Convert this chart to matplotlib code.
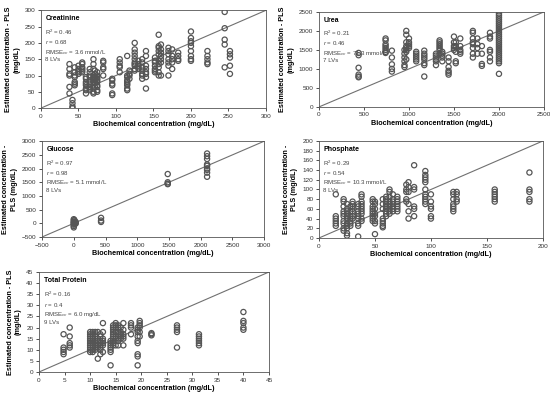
import numpy as np
import matplotlib
matplotlib.use('Agg')
import matplotlib.pyplot as plt

plt.rcParams['font.family'] = ['Liberation Sans', 'DejaVu Sans']
plt.rcParams['mathtext.fontset'] = 'custom'
plt.rcParams['mathtext.rm'] = 'Liberation Sans'
plt.rcParams['mathtext.it'] = 'Liberation Sans:italic'

# reference value columns -> estimated values in each column
creat_x = [38, 42, 45, 50, 55, 60, 65, 70, 72, 75, 83, 95, 105, 115, 118, 125, 130, 135, 140,
           152, 157, 160, 170, 175, 183, 200, 222, 245, 252]
creat_y = [[135, 120, 105, 100, 65, 45], [25, 15, 5, 0], [125, 110, 100, 95, 80, 75, 70],
           [130, 120, 115, 110, 105], [140, 135, 125, 120, 115, 110],
           [95, 90, 80, 75, 70, 60, 55, 45], [120, 110, 100, 95, 85, 75, 65, 60, 55],
           [150, 135, 120, 100, 95, 90, 85, 80, 70, 60, 50, 45], [115, 105, 95, 88, 78, 65],
           [110, 100, 95, 90, 85, 80, 70, 65, 55, 50], [145, 140, 125, 120, 100],
           [90, 85, 75, 70, 45, 40], [150, 140, 130, 125, 110],
           [160, 100, 95, 85, 80, 75, 70, 60, 55], [115, 105, 100, 90],
           [200, 180, 170, 160, 150, 140, 135, 130, 120, 115], [145, 135, 130, 125, 120],
           [150, 140, 125, 115, 105, 100, 90], [175, 160, 130, 120, 110, 105, 95, 60],
           [155, 145, 140, 130, 120, 115, 110], [225, 190, 185, 175, 165, 145, 135, 125, 110, 100],
           [195, 180, 170, 160, 150, 140, 100], [185, 175, 165, 150, 140, 130, 100],
           [180, 160, 150, 140, 120], [170, 160, 150, 145],
           [235, 215, 205, 200, 190, 175, 160, 150, 145], [175, 160, 150, 140, 135],
           [295, 245, 210, 195, 125], [175, 165, 155, 130, 105]]

urea_x = [440, 740, 810, 950, 970, 1000, 1080, 1170, 1300, 1340, 1370, 1440, 1500, 1520, 1570,
          1710, 1760, 1810, 1900, 2000]
urea_y = [[1420, 1360, 1030, 850, 800, 780], [1800, 1750, 1650, 1600, 1550, 1500, 1450, 1420],
          [1480, 1300, 1120, 1000, 930], [1500, 1400, 1300, 1200, 1100, 1050],
          [2000, 1900, 1700, 1600, 1550, 1500, 1450, 1250], [1800, 1700, 1650, 1600, 1550],
          [1450, 1400, 1350, 1300, 1250, 1200],
          [1480, 1400, 1350, 1300, 1250, 1150, 1100, 800], [1400, 1350, 1300, 1250, 1200, 1100],
          [1750, 1700, 1650, 1600, 1550, 1500, 1400], [1450, 1400, 1350, 1300, 1200],
          [1300, 1200, 1050, 950, 900, 850], [1850, 1700, 1600, 1550, 1500],
          [1700, 1600, 1450, 1200, 1150], [1800, 1600, 1500, 1450, 1400],
          [2000, 1950, 1800, 1700, 1650, 1550, 1400, 1300], [1800, 1650, 1550, 1400],
          [1600, 1400, 1130, 1080], [1950, 1850, 1800, 1500, 1450, 1300, 1200],
          [2450, 2400, 2350, 2300, 2250, 2200, 2150, 2100, 2050, 2000, 1950, 1900, 1850, 1800,
           1750, 1700, 1650, 1600, 1550, 1500, 1450, 1400, 1350, 1300, 1250, 1200, 1150, 870]]

gluc_x = [0, 10, 30, 430, 1480, 2100]
gluc_y = [[150, 100, 60, 20, 0, -50, -100, -150], [120, 40, -20], [50, 20, -10],
          [200, 100, 50], [1800, 1500, 1450, 1430],
          [2550, 2450, 2350, 2150, 2100, 2000, 1950, 1850, 1700]]

phos_x = [15, 22, 25, 28, 30, 35, 38, 48, 50, 57, 60, 63, 66, 70, 78, 80, 85, 95, 100, 120,
          123, 157, 188]
phos_y = [[90, 45, 40, 35, 30, 25], [80, 75, 65, 55, 50, 45, 35, 30, 20, 15],
          [70, 60, 55, 50, 45, 40, 30, 25, 20, 10, 5], [65, 55, 45, 40, 35, 30, 25],
          [75, 70, 65, 60, 55, 45, 40], [70, 65, 55, 50, 45, 40, 30, 25, 3],
          [90, 85, 75, 70, 65, 60, 55, 50, 40, 35], [80, 75, 65, 60, 55, 50, 45, 40, 35],
          [75, 70, 60, 50, 45, 35, 30, 8], [80, 70, 60, 40, 35, 30, 25, 22],
          [85, 80, 75, 70, 65, 60, 55, 50, 45], [100, 95, 85, 75, 70, 65, 60, 55, 50],
          [90, 80, 75, 70, 65, 60, 55], [85, 80, 75, 70, 65, 60, 55],
          [110, 100, 95, 80, 75], [115, 105, 95, 70, 55, 40], [150, 105, 100, 65, 60, 45],
          [138, 130, 125, 120, 115, 100, 90, 85, 80, 75, 70], [90, 75, 65, 60, 45, 40],
          [95, 90, 80, 70, 65, 60, 55], [95, 90, 80, 75], [100, 95, 90, 85, 80, 75],
          [135, 100, 95, 80, 75]]

prot_x = [4.8, 6, 10, 10.5, 11, 11.5, 12, 12.5, 14, 14.5, 15, 15.5, 16, 16.5, 18, 19.3, 19.7,
          22, 27, 31.3, 40]
prot_y = [[17, 11, 10, 9, 8], [20, 16, 13, 12, 11], [18, 17, 16, 15, 14, 13, 12, 11, 10, 9],
          [18, 17, 16, 15, 14, 13, 12, 11, 10, 9], [18, 17, 16, 14, 13, 12, 11, 10],
          [18, 15, 14, 12, 11, 6], [17, 16, 14, 13, 12, 11, 10, 8],
          [22, 18, 15, 14, 13, 12, 9], [14, 13, 12, 11, 10, 9, 3],
          [21, 20, 19, 18, 17, 16, 15, 14, 13, 12], [22, 21, 20, 18, 16, 15, 12],
          [21, 20, 18, 17, 15, 14, 12], [20, 18, 17, 16, 15], [22, 19, 17, 16, 15, 12],
          [22, 21, 20, 17], [20, 19, 18, 16, 14, 13, 8, 7, 3], [23, 22, 21, 20, 18, 16],
          [17.5, 17, 16.5], [21, 20, 19, 18, 11], [17, 16, 15, 14, 13, 12], [27, 23, 22, 20, 19]]

panels = [
    # name, x cols, y cols, limits, x step, y step, stats, ylabel, axes rect
    ('Creatinine', creat_x, creat_y, (0, 300), 50, 50,
     ('0.46', '0.68', '3.6 mmol/L', '8'), 'Estimated concentration - PLS\n(mg/dL)',
     [0.0745, 0.727, 0.409, 0.247]),
    ('Urea', urea_x, urea_y, (0, 2500), 500, 500,
     ('0.21', '0.46', '71.3 mmol/L', '7'), 'Estimated concentration - PLS\n(mg/dL)',
     [0.58, 0.730, 0.409, 0.240]),
    ('Glucose', gluc_x, gluc_y, (-500, 3000), 500, 500,
     ('0.97', '0.98', '5.1 mmol/L', '8'), 'Estimated concentration -\nPLS (mg/dL)',
     [0.0764, 0.4015, 0.404, 0.242]),
    ('Phosphate', phos_x, phos_y, (0, 200), 50, 20,
     ('0.29', '0.54', '10.3 mmol/L', '8'), 'Estimated concentration -\nPLS (mg/dL)',
     [0.58, 0.399, 0.407, 0.245]),
    ('Total Protein', prot_x, prot_y, (0, 45), 5, 5,
     ('0.16', '0.4', '6.0 mg/dL', '9'), 'Estimated concentration - PLS\n(mg/dL)',
     [0.071, 0.0606, 0.418, 0.2525]),
]

fig = plt.figure(figsize=(5.5, 3.96), dpi=100)

for name, xc, yc, lim, xs, ys, stats, ylab, rect in panels:
    ax = fig.add_axes(rect)
    xs_all = np.concatenate([[x] * len(y) for x, y in zip(xc, yc)])
    ys_all = np.concatenate(yc)
    ax.plot(lim, lim, color='#707070', lw=0.8, zorder=1)
    ax.scatter(xs_all, ys_all, s=14, facecolors='none', edgecolors='#555555', linewidths=0.9,
               zorder=2)
    ax.set_xlim(lim)
    ax.set_ylim(lim)
    ax.set_xticks(np.arange(lim[0], lim[1] + 1, xs))
    ax.set_yticks(np.arange(lim[0], lim[1] + 1, ys))
    ax.tick_params(labelsize=4.6, length=2.5, width=0.6, pad=1.5, colors='#333333')
    for sp in ax.spines.values():
        sp.set_linewidth(0.6)
        sp.set_color('#555555')
    ax.set_xlabel('Biochemical concentration (mg/dL)', fontsize=5.2, fontweight='bold',
                  labelpad=2)
    ax.set_ylabel(ylab, fontsize=5.2, fontweight='bold', labelpad=3, linespacing=1.3)
    ax.text(0.02, 0.95, name, transform=ax.transAxes, fontsize=5, fontweight='bold',
            va='top', ha='left')
    r2, r, rmse, lv = stats
    txt = ('R$^2$ = ' + r2 + '\n$r$ = ' + r + '\nRMSE$_{cv}$ = ' + rmse + '\n' + lv + ' LVs')
    ax.text(0.02, 0.82, txt, transform=ax.transAxes, fontsize=4.4, va='top', ha='left',
            color='#444444', linespacing=1.2)

plt.savefig('out.png', dpi=100)
